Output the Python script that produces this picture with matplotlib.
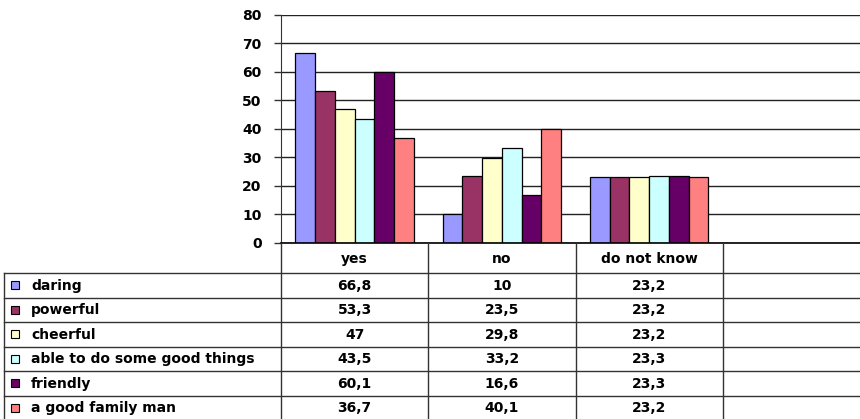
import matplotlib.pyplot as plt
import matplotlib.transforms as mtransforms
from matplotlib.patches import Rectangle
import numpy as np

categories = ["yes", "no", "do not know", ""]
series_names = ["daring", "powerful", "cheerful", "able to do some good things",
                "friendly", "a good family man"]
daring = [66.8, 10, 23.2]
powerful = [53.3, 23.5, 23.2]
cheerful = [47, 29.8, 23.2]
able_to_do = [43.5, 33.2, 23.3]
friendly = [60.1, 16.6, 23.3]
family_man = [36.7, 40.1, 23.2]
colors = ["#9999FF", "#993366", "#FFFFCC", "#CCFFFF", "#660066", "#FF8080"]
yticks = [0, 10, 20, 30, 40, 50, 60, 70, 80]

all_series = [daring, powerful, cheerful, able_to_do, friendly, family_man]

W, H = 860, 419
plt.rcParams['font.family'] = 'DejaVu Sans'
plt.rcParams['font.weight'] = 'bold'
FS = 10

fig = plt.figure(figsize=(W / 100, H / 100), dpi=100)

# plot area (pixel coords from top-left)
x0, x1 = 281, 870
y_top, y_zero = 15, 242.7
ax = fig.add_axes([x0 / W, (H - y_zero) / H, (x1 - x0) / W, (y_zero - y_top) / H])

n = len(all_series)
bw = 0.806 / n
x = np.arange(3)
for i, (vals, c) in enumerate(zip(all_series, colors)):
    ax.bar(x - 0.403 + bw * (i + 0.5), vals, width=bw, color=c,
           edgecolor="black", linewidth=0.9, zorder=3)

ax.set_xlim(-0.5, len(categories) - 0.5)
ax.set_ylim(0, 80)
ax.set_yticks(yticks)
ax.set_yticklabels([str(t) for t in yticks], fontsize=FS, fontweight="bold")
ax.yaxis.grid(True, color="#222222", linewidth=1)
ax.set_axisbelow(True)
ax.set_xticks([])
for s in ["top", "right", "bottom"]:
    ax.spines[s].set_visible(False)
ax.spines["left"].set_color("#333333")
ax.tick_params(axis="y", length=5, width=1, color="#333333", pad=9)
ax.axhline(0, color="black", linewidth=1.2, zorder=4, clip_on=False)

# data table below the plot
tab_h = H - y_zero
tab = fig.add_axes([0, 0, 1, tab_h / H])
tab.set_xlim(0, W)
tab.set_ylim(tab_h, 0)
tab.axis("off")
bt = mtransforms.blended_transform_factory(ax.transData, tab.transData)

header_h = 30.3
row_h = 24.5
line_kw = dict(color="#333333", linewidth=1, clip_on=False)

col_edges = np.arange(len(categories) + 1) - 0.5
bottom = header_h + row_h * len(all_series)
for ce in col_edges:
    tab.plot([ce, ce], [0, bottom], transform=bt, **line_kw)

# horizontal lines
label_left = 4
for r in range(len(all_series) + 1):
    yy = header_h + row_h * r
    tab.plot([label_left, W], [yy, yy], **line_kw)
tab.plot([label_left, label_left], [header_h, bottom], **line_kw)

for j, cat in enumerate(categories):
    tab.text(j, header_h / 2 + 1, cat, transform=bt, ha="center", va="center",
             fontsize=FS, fontweight="bold")

for i, (name, vals, c) in enumerate(zip(series_names, all_series, colors)):
    yc = header_h + row_h * (i + 0.5)
    tab.add_patch(Rectangle((11, yc - 4), 8, 8, facecolor=c, edgecolor="black",
                            linewidth=0.8))
    tab.text(31, yc + 0.5, name, ha="left", va="center", fontsize=FS,
             fontweight="bold")
    for j, v in enumerate(vals):
        tab.text(j, yc + 0.5, f"{v:g}".replace(".", ","), transform=bt,
                 ha="center", va="center", fontsize=FS, fontweight="bold")

fig.savefig("out.png", dpi=100)
